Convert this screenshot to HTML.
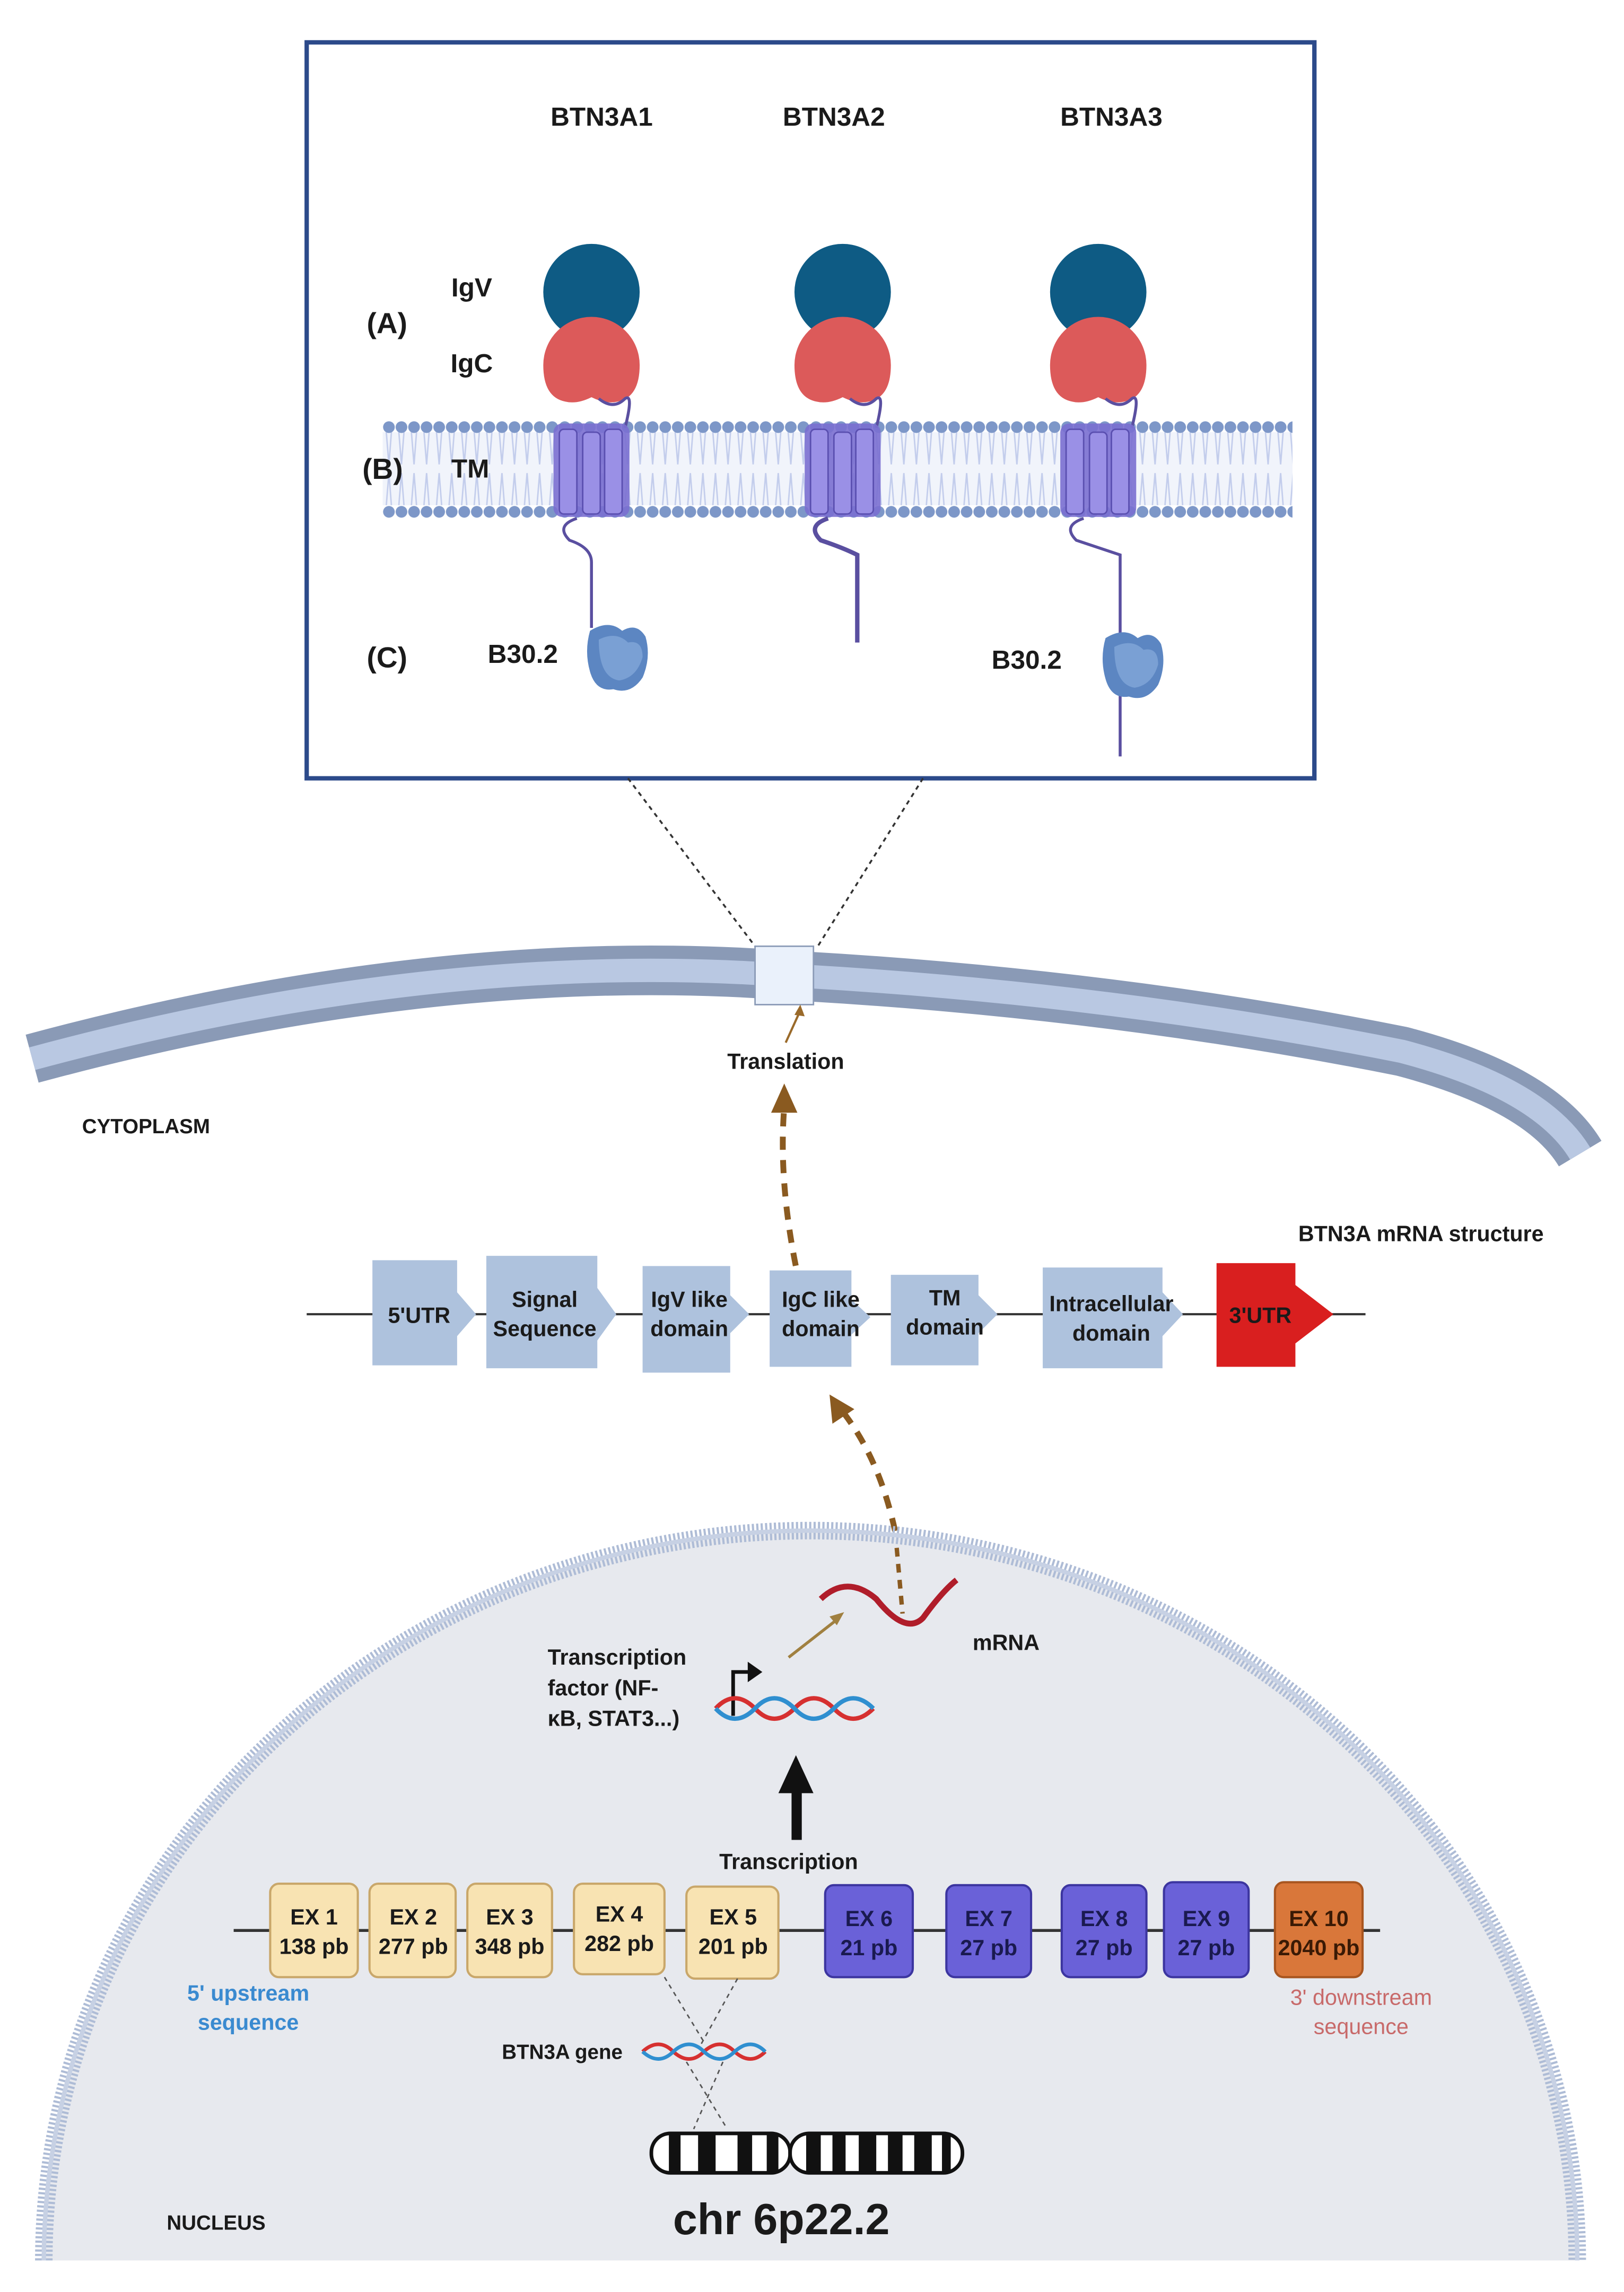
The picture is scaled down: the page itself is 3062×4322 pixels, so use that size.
<!DOCTYPE html>
<html><head><meta charset="utf-8"><style>
html,body{margin:0;padding:0;background:#fff;}
svg{display:block;}
text{font-family:"Liberation Sans",sans-serif;font-weight:bold;fill:#1a1a1a;}
</style></head><body>
<svg width="3062" height="4322" viewBox="0 0 1112 1569.6" xmlns="http://www.w3.org/2000/svg">
<defs>
<pattern id="lip" x="262" y="288" width="8.6" height="58" patternUnits="userSpaceOnUse">
<circle cx="4.3" cy="4.5" r="4" fill="#7d97c8"/>
</pattern>
<pattern id="tails" x="262" y="296" width="8.6" height="50" patternUnits="userSpaceOnUse">
<path d="M2.5,0 L4.3,22 L6,0 M2.5,50 L4.3,28 L6,50" stroke="#c3cdec" stroke-width="1" fill="none"/>
</pattern>
<g id="tm">
<rect x="-26" y="0" width="52" height="64" rx="6" fill="#7a6fd0" opacity="0.9"/>
<rect x="-22" y="4" width="12" height="58" rx="3" fill="#9a90e6" stroke="#5a4fb0" stroke-width="1"/>
<rect x="-6" y="6" width="12" height="56" rx="3" fill="#9a90e6" stroke="#5a4fb0" stroke-width="1"/>
<rect x="9" y="4" width="12" height="58" rx="3" fill="#9a90e6" stroke="#5a4fb0" stroke-width="1"/>
</g>
<g id="b30">
<path d="M-18,-18 Q-5,-26 4,-18 Q14,-24 20,-14 Q24,0 18,14 Q10,26 -2,22 Q-14,24 -18,10 Q-22,-4 -18,-18Z" fill="#5c86c2"/>
<path d="M-12,-12 Q0,-18 8,-10 Q18,-12 18,0 Q14,14 2,16 Q-12,14 -12,-12Z" fill="#7aa0d4"/>
</g>
</defs>

<!-- top box -->
<rect x="210" y="29" width="690" height="504" fill="#fff" stroke="#2c4a8a" stroke-width="3"/>
<text x="412" y="86" font-size="18" text-anchor="middle">BTN3A1</text>
<text x="571" y="86" font-size="18" text-anchor="middle">BTN3A2</text>
<text x="761" y="86" font-size="18" text-anchor="middle">BTN3A3</text>

<!-- bilayer -->
<rect x="262" y="296" width="623" height="50" fill="#f1f4fb"/>
<rect x="262" y="296" width="623" height="50" fill="url(#tails)"/>
<rect x="262" y="288" width="623" height="67" fill="url(#lip)"/>

<text x="265" y="228" font-size="20" text-anchor="middle" font-weight="normal">(A)</text>
<text x="262" y="328" font-size="20" text-anchor="middle" font-weight="normal">(B)</text>
<text x="265" y="457" font-size="20" text-anchor="middle" font-weight="normal">(C)</text>
<text x="323" y="203" font-size="18" text-anchor="middle">IgV</text>
<text x="323" y="255" font-size="18" text-anchor="middle">IgC</text>
<text x="322" y="327" font-size="18" text-anchor="middle">TM</text>
<text x="358" y="454" font-size="18" text-anchor="middle">B30.2</text>
<text x="703" y="458" font-size="18" text-anchor="middle">B30.2</text>

<!-- proteins -->
<g>
<circle cx="405" cy="200" r="33" fill="#0e5b84"/>
<path d="M372,250 a33,33 0 0 1 66,0 q0,22 -15,25 q-8,2 -18,-3 q-10,5 -18,3 q-15,-3 -15,-25z" fill="#dc5a5a"/>
<path d="M410,273 q10,8 18,0 q6,-4 0,20" stroke="#5a4fa0" stroke-width="2" fill="none"/>
<use href="#tm" x="405" y="290"/>
<path d="M395,355 q-15,5 -5,15 q15,5 15,15 l0,45" stroke="#5a4fa0" stroke-width="2" fill="none"/>
<use href="#b30" x="422" y="450"/>

<circle cx="577" cy="200" r="33" fill="#0e5b84"/>
<path d="M544,250 a33,33 0 0 1 66,0 q0,22 -15,25 q-8,2 -18,-3 q-10,5 -18,3 q-15,-3 -15,-25z" fill="#dc5a5a"/>
<path d="M582,273 q10,8 18,0 q6,-4 0,20" stroke="#5a4fa0" stroke-width="2" fill="none"/>
<use href="#tm" x="577" y="290"/>
<path d="M567,355 q-15,5 -5,15 q15,5 25,10 l0,60" stroke="#5a4fa0" stroke-width="3" fill="none"/>

<circle cx="752" cy="200" r="33" fill="#0e5b84"/>
<path d="M719,250 a33,33 0 0 1 66,0 q0,22 -15,25 q-8,2 -18,-3 q-10,5 -18,3 q-15,-3 -15,-25z" fill="#dc5a5a"/>
<path d="M757,273 q10,8 18,0 q6,-4 0,20" stroke="#5a4fa0" stroke-width="2" fill="none"/>
<use href="#tm" x="752" y="290"/>
<path d="M742,355 q-15,5 -5,15 q15,5 30,10 l0,138" stroke="#5a4fa0" stroke-width="2" fill="none"/>
<use href="#b30" x="775" y="455"/>
</g>

<!-- zoom lines -->
<line x1="430" y1="533" x2="517" y2="648" stroke="#333" stroke-width="1.3" stroke-dasharray="3 3"/>
<line x1="632" y1="533" x2="560" y2="648" stroke="#333" stroke-width="1.3" stroke-dasharray="3 3"/>

<!-- cell membrane -->
<path d="M22,725 Q300,650 540,668 Q760,680 960,720 Q1055,745 1082,790" stroke="#8a9ab6" stroke-width="34" fill="none"/>
<path d="M22,725 Q300,650 540,668 Q760,680 960,720 Q1055,745 1082,790" stroke="#b9c8e2" stroke-width="16" fill="none"/>
<rect x="517" y="648" width="40" height="40" fill="#eaf1fb" stroke="#8a9ab6" stroke-width="1"/>
<text x="538" y="732" font-size="15" text-anchor="middle">Translation</text>
<line x1="538" y1="714" x2="548" y2="692" stroke="#9a6a2a" stroke-width="1.5"/>
<path d="M548,688 l3,8 l-7,-1z" fill="#9a6a2a"/>
<text x="100" y="776" font-size="14" text-anchor="middle">CYTOPLASM</text>

<!-- dashed brown arrows -->
<path d="M552,898 Q532,820 537,758" stroke="#8a5a20" stroke-width="4" fill="none" stroke-dasharray="9 7"/>
<path d="M537,742 l-9,20 l18,0z" fill="#8a5a20"/>
<path d="M618,1080 Q610,1010 578,968" stroke="#8a5a20" stroke-width="4" fill="none" stroke-dasharray="9 7"/>
<path d="M568,955 l2,20 l15,-10z" fill="#8a5a20"/>

<!-- mRNA structure -->
<text x="973" y="850" font-size="15" text-anchor="middle">BTN3A mRNA structure</text>
<line x1="210" y1="900" x2="935" y2="900" stroke="#333" stroke-width="1.5"/>
<g fill="#aec2dd">
<path d="M255,863 h58 v22 l13,15 l-13,15 v20 h-58 z" />
<path d="M333,860 h76 v22 l13,18 l-13,18 v19 h-76 z" />
<path d="M440,867 h60 v20 l13,13 l-13,13 v27 h-60 z" />
<path d="M527,870 h56 v20 l13,12 l-13,12 v22 h-56 z" />
<path d="M610,873 h60 v14 l13,13 l-13,13 v22 h-60 z" />
<path d="M714,868 h82 v17 l14,15 l-14,15 v22 h-82 z" />
</g>
<path d="M833,865 h54 v15 l26,20 l-26,20 v16 h-54 z" fill="#d91f1f"/>
<g font-size="15" text-anchor="middle">
<text x="287" y="906">5'UTR</text>
<text x="373" y="895">Signal</text><text x="373" y="915">Sequence</text>
<text x="472" y="895">IgV like</text><text x="472" y="915">domain</text>
<text x="562" y="895">IgC like</text><text x="562" y="915">domain</text>
<text x="647" y="894">TM</text><text x="647" y="914">domain</text>
<text x="761" y="898">Intracellular</text><text x="761" y="918">domain</text>
<text x="863" y="906">3'UTR</text>
</g>

<!-- nucleus -->
<path d="M30,1548 A525,500 0 0 1 1080,1548 Z" fill="#e7e9ee"/>
<path d="M30,1548 A525,500 0 0 1 1080,1548" fill="none" stroke="#aebcd6" stroke-width="12" stroke-dasharray="1.5 1.5"/>
<path d="M30,1548 A525,500 0 0 1 1080,1548" fill="none" stroke="#c7d1e4" stroke-width="3" />

<!-- mRNA wave -->
<path d="M562,1095 Q580,1078 600,1095 Q620,1120 632,1108 Q645,1090 655,1082" stroke="#b01d2a" stroke-width="4" fill="none"/>
<path d="M614,1060 L618,1105" stroke="#8a5a20" stroke-width="3" stroke-dasharray="6 5"/>
<text x="666" y="1130" font-size="15">mRNA</text>
<line x1="540" y1="1135" x2="572" y2="1110" stroke="#a08040" stroke-width="2"/>
<path d="M578,1104 l-10,3 l5,6z" fill="#a08040"/>
<text x="375" y="1140" font-size="15">Transcription</text>
<text x="375" y="1161" font-size="15">factor (NF-</text>
<text x="375" y="1182" font-size="15">κB, STAT3...)</text>
<path d="M502,1175 v-30 h12" stroke="#111" stroke-width="2.5" fill="none"/>
<path d="M512,1138 l10,7 l-10,7z" fill="#111"/>
<path d="M490,1170 q13,-14 27,0 q13,14 27,0 q13,-14 27,0 q13,14 27,0" stroke="#d63030" stroke-width="3" fill="none"/>
<path d="M490,1170 q13,14 27,0 q13,-14 27,0 q13,14 27,0 q13,-14 27,0" stroke="#2f8fd0" stroke-width="3" fill="none"/>
<rect x="542" y="1225" width="7" height="35" fill="#111"/>
<path d="M533,1228 l12,-26 l12,26z" fill="#111"/>
<text x="540" y="1280" font-size="15" text-anchor="middle">Transcription</text>

<!-- exons -->
<line x1="160" y1="1322" x2="945" y2="1322" stroke="#333" stroke-width="2"/>
<g stroke-width="1.5">
<rect x="185" y="1290" width="60" height="64" rx="6" fill="#f8e3b2" stroke="#c9a76a"/>
<rect x="253" y="1290" width="59" height="64" rx="6" fill="#f8e3b2" stroke="#c9a76a"/>
<rect x="320" y="1290" width="58" height="64" rx="6" fill="#f8e3b2" stroke="#c9a76a"/>
<rect x="393" y="1290" width="62" height="62" rx="6" fill="#f8e3b2" stroke="#c9a76a"/>
<rect x="470" y="1292" width="63" height="63" rx="6" fill="#f8e3b2" stroke="#c9a76a"/>
<rect x="565" y="1291" width="60" height="63" rx="6" fill="#6a61d8" stroke="#3c35a0"/>
<rect x="648" y="1291" width="58" height="63" rx="6" fill="#6a61d8" stroke="#3c35a0"/>
<rect x="727" y="1291" width="58" height="63" rx="6" fill="#6a61d8" stroke="#3c35a0"/>
<rect x="797" y="1289" width="58" height="65" rx="6" fill="#6a61d8" stroke="#3c35a0"/>
<rect x="873" y="1289" width="60" height="65" rx="6" fill="#d9773a" stroke="#a8551f"/>
</g>
<g font-size="15" text-anchor="middle">
<text x="215" y="1318">EX 1</text><text x="215" y="1338">138 pb</text>
<text x="283" y="1318">EX 2</text><text x="283" y="1338">277 pb</text>
<text x="349" y="1318">EX 3</text><text x="349" y="1338">348 pb</text>
<text x="424" y="1316">EX 4</text><text x="424" y="1336">282 pb</text>
<text x="502" y="1318">EX 5</text><text x="502" y="1338">201 pb</text>
</g>
<g font-size="15" text-anchor="middle">
<text x="595" y="1319" style="fill:#1a1a50">EX 6</text><text x="595" y="1339" style="fill:#1a1a50">21 pb</text>
<text x="677" y="1319" style="fill:#1a1a50">EX 7</text><text x="677" y="1339" style="fill:#1a1a50">27 pb</text>
<text x="756" y="1319" style="fill:#1a1a50">EX 8</text><text x="756" y="1339" style="fill:#1a1a50">27 pb</text>
<text x="826" y="1319" style="fill:#1a1a50">EX 9</text><text x="826" y="1339" style="fill:#1a1a50">27 pb</text>
<text x="903" y="1319" style="fill:#3a1a05">EX 10</text><text x="903" y="1339" style="fill:#3a1a05">2040 pb</text>
</g>
<g font-size="15" text-anchor="middle">
<text x="170" y="1370" style="fill:#3a8ad0">5' upstream</text>
<text x="170" y="1390" style="fill:#3a8ad0">sequence</text>
<text x="932" y="1373" style="fill:#c86a6a;font-weight:normal">3' downstream</text>
<text x="932" y="1393" style="fill:#c86a6a;font-weight:normal">sequence</text>
</g>
<g stroke="#555" stroke-width="1" stroke-dasharray="3 3">
<line x1="455" y1="1354" x2="483" y2="1400"/>
<line x1="505" y1="1355" x2="480" y2="1400"/>
<line x1="470" y1="1412" x2="498" y2="1458"/>
<line x1="495" y1="1412" x2="475" y2="1458"/>
</g>
<text x="385" y="1410" font-size="14" text-anchor="middle">BTN3A gene</text>
<path d="M440,1405 q11,-10 21,0 q11,10 21,0 q11,-10 21,0 q11,10 21,0" stroke="#d63030" stroke-width="2.5" fill="none"/>
<path d="M440,1405 q11,10 21,0 q11,-10 21,0 q11,10 21,0 q11,-10 21,0" stroke="#2f8fd0" stroke-width="2.5" fill="none"/>

<!-- chromosome -->
<g stroke="#111" stroke-width="2.5">
<rect x="446" y="1461" width="95" height="27" rx="13" fill="#fff"/>
<rect x="541" y="1461" width="118" height="27" rx="13" fill="#fff"/>
</g>
<g fill="#111">
<rect x="458" y="1462" width="8" height="25"/><rect x="478" y="1462" width="12" height="25"/><rect x="505" y="1462" width="10" height="25"/><rect x="525" y="1462" width="8" height="25"/>
<rect x="552" y="1462" width="10" height="25"/><rect x="570" y="1462" width="9" height="25"/><rect x="588" y="1462" width="12" height="25"/><rect x="608" y="1462" width="10" height="25"/><rect x="626" y="1462" width="12" height="25"/><rect x="645" y="1462" width="6" height="25"/>
</g>
<text x="535" y="1530" font-size="30" text-anchor="middle">chr 6p22.2</text>
<text x="148" y="1527" font-size="14" text-anchor="middle">NUCLEUS</text>
</svg>
</body></html>
